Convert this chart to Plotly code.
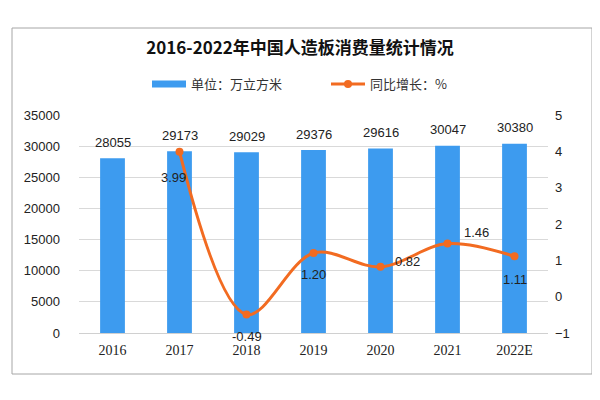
import plotly.graph_objects as go

years = ["2016", "2017", "2018", "2019", "2020", "2021", "2022E"]
consumption = [28055, 29173, 29029, 29376, 29616, 30047, 30380]
growth_years = ["2017", "2018", "2019", "2020", "2021", "2022E"]
growth = [3.99, -0.49, 1.20, 0.82, 1.46, 1.11]

bar_name = "单位：万立方米"
line_name = "同比增长：%"
title_text = "2016-2022年中国人造板消费量统计情况"

# label offsets (pixels) for growth labels
growth_shift = [(-6, -26), (0, -22), (0, -21), (27, 5), (29, 11), (0, -23)]

BLUE = "#3D9BEF"
ORANGE = "#F26B21"
FONT = "Liberation Sans"

# page offset compensation (browser body margin)
OFF = 8
L, R, T, B = 79 - OFF, 600 - (548 - OFF), 115 - OFF, 400 - (333 - OFF)
PW, PH = 600 - L - R, 400 - T - B

fig = go.Figure()
fig.add_trace(go.Bar(
    x=years, y=consumption, name=bar_name, marker_color=BLUE,
    marker_line_width=0, yaxis="y", showlegend=False, legendgroup="bar"))
# legend entry for the bars, drawn as a wide swatch like the reference
fig.add_trace(go.Scatter(
    x=[None], y=[None], name=bar_name, mode="lines", legendgroup="bar",
    line=dict(color=BLUE, width=7), yaxis="y"))
fig.add_trace(go.Scatter(
    x=growth_years, y=growth, name=line_name, mode="lines+markers",
    line=dict(color=ORANGE, width=3, shape="spline", smoothing=1.0),
    marker=dict(color=ORANGE, size=8), yaxis="y2"))

annotations = []
for x, v in zip(years, consumption):
    annotations.append(dict(x=years.index(x), y=v, xref="x", yref="y", text=str(v),
                            showarrow=False, yshift=16,
                            font=dict(family=FONT, size=13, color="#222")))
for (x, v), (dx, dy) in zip(zip(growth_years, growth), growth_shift):
    annotations.append(dict(x=years.index(x), y=v, xref="x", yref="y2", text=f"{v:.2f}",
                            showarrow=False, xshift=dx, yshift=dy,
                            font=dict(family=FONT, size=13, color="#222")))

fig.update_layout(
    width=600, height=400,
    margin=dict(l=L, r=R, t=T, b=B, autoexpand=False),
    paper_bgcolor="white", plot_bgcolor="white",
    bargap=0.63,
    title=dict(text=title_text, x=(300 - OFF) / 600, xref="container",
               y=1 - (48 - OFF) / 400,
               yref="container", yanchor="middle", xanchor="center",
               font=dict(family="Noto Sans CJK SC", size=17, color="#111", weight="bold")),
    legend=dict(orientation="h", xref="container", yref="container",
                x=(158 - OFF - 11) / 600, y=1 - (84 - OFF) / 400,
                xanchor="left", yanchor="middle",
                entrywidth=130, entrywidthmode="pixels", itemwidth=34,
                font=dict(family="Noto Sans CJK SC", size=13, color="#333"),
                bgcolor="rgba(0,0,0,0)"),
    xaxis=dict(type="category", categoryorder="array", categoryarray=years,
               range=[-0.5, len(years) - 0.5], showgrid=False, showline=True,
               linecolor="#D0D0D0", automargin=False,
               ticks="", tickfont=dict(family="Liberation Serif", size=14, color="#222"),
               ticklabelstandoff=4),
    yaxis=dict(range=[0, 35000], dtick=5000, showgrid=True, gridcolor="#D9D9D9",
               zeroline=False, showline=False, ticks="", tickformat="d",
               automargin=False,
               tickfont=dict(family=FONT, size=13, color="#222"),
               ticklabelstandoff=18),
    yaxis2=dict(range=[-1, 5], dtick=1, overlaying="y", side="right", showgrid=False,
                zeroline=False, showline=False, ticks="", automargin=False,
                tickfont=dict(family=FONT, size=13, color="#222"),
                ticklabelstandoff=6),
    annotations=annotations,
    shapes=[dict(type="rect", xref="paper", yref="paper",
                 x0=(12 - OFF - L) / PW, x1=(592 - OFF - L) / PW,
                 y0=((333 - OFF) - (374 - OFF)) / PH, y1=((333 - OFF) - (28 - OFF)) / PH,
                 line=dict(color="#A6A6A6", width=1), fillcolor="rgba(0,0,0,0)",
                 layer="below")],
)

fig.write_html("out.html")
